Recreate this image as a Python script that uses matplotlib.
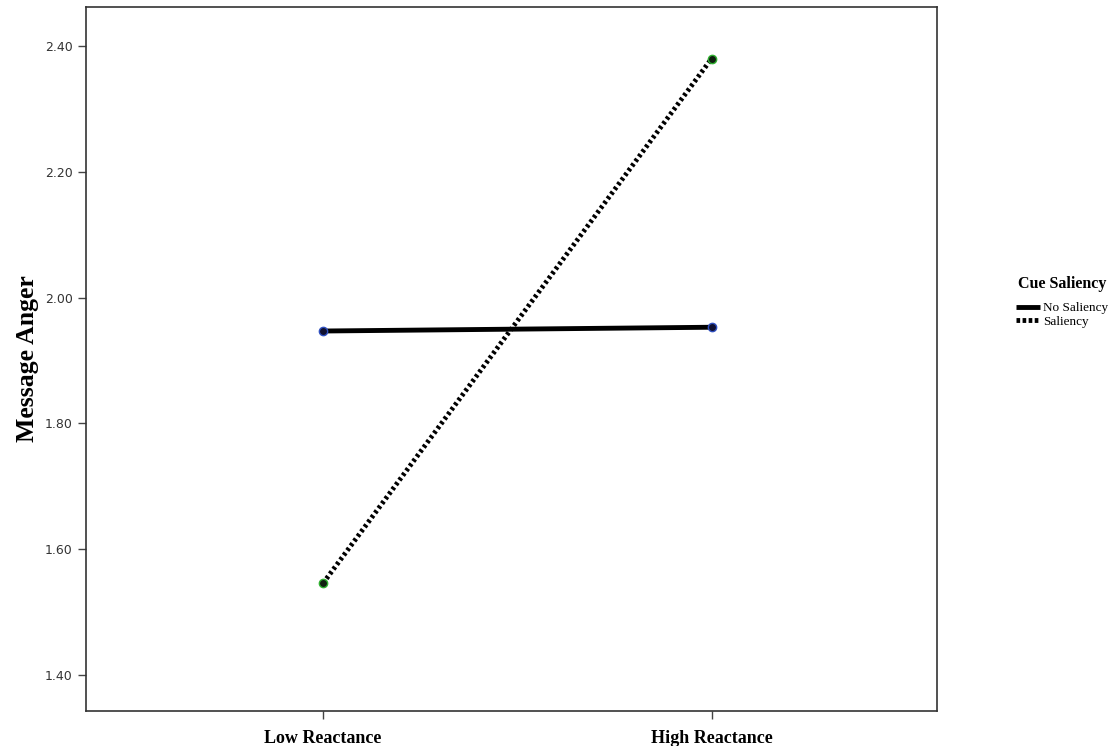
import matplotlib.pyplot as plt

# Data
categories = ['Low Reactance', 'High Reactance']
noSaliency = [1.947, 1.953]
saliency = [1.546, 2.380]
yTicks = [1.40, 1.60, 1.80, 2.00, 2.20, 2.40]

fig = plt.figure(figsize=(11.12, 7.46), dpi=100)
ax = fig.add_axes([0.0773, 0.0469, 0.7653, 0.9437])

xs = range(len(categories))
ax.plot(xs, noSaliency, color='black', linewidth=3.5, solid_capstyle='butt',
        marker='o', markersize=6, markerfacecolor='#101030', markeredgecolor='#3050c0',
        markeredgewidth=1.0, label='No Saliency')
ax.plot(xs, saliency, color='black', linewidth=3.5, linestyle=(0, (0.6, 0.6)),
        dash_capstyle='butt', marker='o', markersize=6, markerfacecolor='#102010',
        markeredgecolor='#30b030', markeredgewidth=1.0, label='Saliency')

ax.set_xlim(-0.61, 1.58)
ax.set_ylim(1.343, 2.462)
ax.set_xticks(list(xs))
ax.set_xticklabels(categories, fontfamily='Liberation Serif', fontweight='bold', fontsize=13)
ax.set_yticks(yTicks)
ax.set_yticklabels([f'{v:.2f}' for v in yTicks], fontsize=9, color='#333333')
ax.tick_params(axis='both', direction='out', length=6, width=1, color='#444444')
ax.tick_params(axis='x', pad=8)
for s in ax.spines.values():
    s.set_linewidth(1.2)
    s.set_color('#333333')

ax.set_ylabel('Message Anger', fontfamily='Liberation Serif', fontweight='bold',
              fontsize=18.5, labelpad=4)

# legend title drawn separately so the gaps match
fig.text(1062 / 1112, 1 - 284 / 746, 'Cue Saliency', ha='center', va='center',
         fontfamily='Liberation Serif', fontweight='bold', fontsize=11.5)
leg = ax.legend(loc='center left', bbox_to_anchor=(1016 / 1112, 1 - 315 / 746),
                bbox_transform=fig.transFigure, frameon=False,
                prop={'family': 'Liberation Serif', 'size': 9.5}, borderpad=0,
                borderaxespad=0, handlelength=1.8, handletextpad=0.25, labelspacing=0.1)
legLines = leg.get_lines()
for h in legLines:
    h.set_marker('')
    h.set_linewidth(3.5)
legLines[1].set_linestyle((0, (0.75, 0.5)))

fig.savefig('out.png', dpi=100)
